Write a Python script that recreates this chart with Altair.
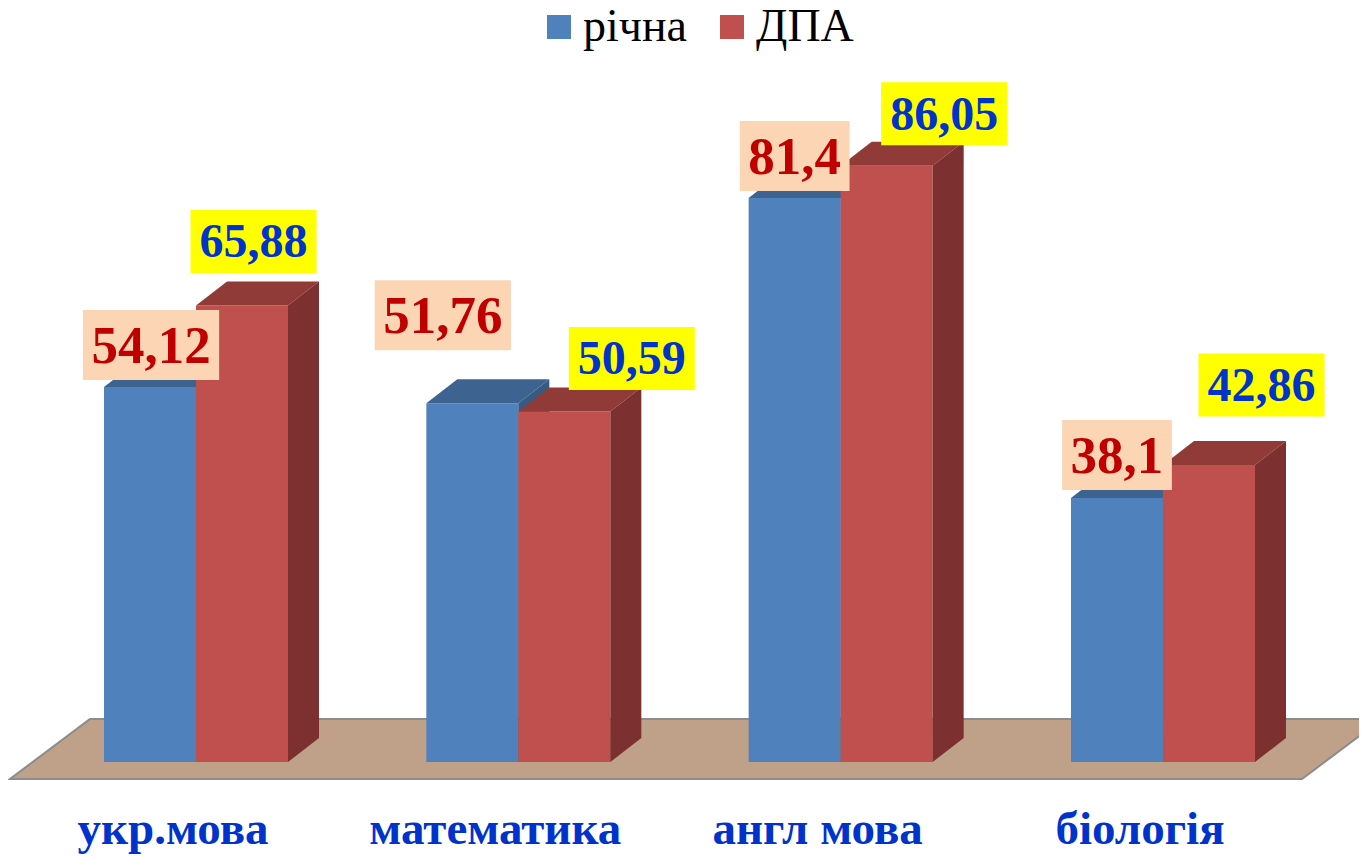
import altair as alt
import pandas as pd

# ---------------- data ----------------
CATEGORIES = ["укр.мова", "математика", "англ мова", "біологія"]
SERIES = ["річна", "ДПА"]
RICHNA = [54.12, 51.76, 81.4, 38.1]
DPA = [65.88, 50.59, 86.05, 42.86]
RICHNA_LABELS = ["54,12", "51,76", "81,4", "38,1"]
DPA_LABELS = ["65,88", "50,59", "86,05", "42,86"]

# ---------------- layout / style ----------------
W, H = 1351, 846
GROUP_PX = 322.33        # px between category groups
Y_PX = 6.93              # px per value unit
X0_PX = 188              # chart x of first group centre
BASE_PX = 754            # chart y of the value 0
BAR_PX = 92
DX_PX, DY_PX = 31, 24    # 3-D depth offset
FONT = "Liberation Serif"

BLUE, BLUE_TOP, BLUE_SIDE = "#4F81BD", "#3D6491", "#375A82"
RED, RED_TOP, RED_SIDE = "#C0504D", "#913B39", "#7C302F"
FLOOR, FLOOR_EDGE = "#BFA18A", "#8C8C8C"

# label nudges in px relative to the top centre of the bar's front face
NUDGE = {
    0: [(1, -42), (-29.5, -88), (0, -42), (0, -43)],
    1: [(11.5, -64), (67.5, -53), (57.5, -52), (52.5, -80)],
}
LABEL_STYLE = {
    0: dict(fs=53, h=70, pad=17, box="#FCD5B5", txt="#C00000"),
    1: dict(fs=48, h=63, pad=18, box="#FFFF00", txt="#0033CC"),
}


def ux(px):
    return px / GROUP_PX


def uy(px):
    return px / Y_PX


XS = alt.Scale(domain=[-X0_PX / GROUP_PX, (W - X0_PX) / GROUP_PX], nice=False, zero=False)
YS = alt.Scale(domain=[-(H - BASE_PX) / Y_PX, BASE_PX / Y_PX], nice=False, zero=False)

front_rows, top_rows, side_rows, label_rows = [], [], [], []
for s, vals in enumerate([RICHNA, DPA]):
    labels = [RICHNA_LABELS, DPA_LABELS][s]
    for i, v in enumerate(vals):
        xl = i + (ux(-BAR_PX) if s == 0 else 0.0)
        xr = xl + ux(BAR_PX)
        dx, dy = ux(DX_PX), uy(DY_PX)
        bid = f"{i}-{s}"
        front_rows.append(dict(s=s, series=SERIES[s], bar=bid, x=xl, x2=xr, y=0.0, y2=v))
        for px_, lo, hi in [(xl, v, v), (xl + dx, v, v + dy), (xr, v, v + dy), (xr + dx, v + dy, v + dy)]:
            top_rows.append(dict(s=s, bar=bid, x=px_, lo=lo, hi=hi))
        for px_, lo, hi in [(xr, 0.0, v), (xr + dx, dy, v + dy)]:
            side_rows.append(dict(s=s, bar=bid, x=px_, lo=lo, hi=hi))
        st = LABEL_STYLE[s]
        nx, ny = NUDGE[s][i]
        xc = (xl + xr) / 2 + ux(nx)
        yc = v - uy(ny)
        digits = len(labels[i]) - 1
        bw = digits * 0.5 * st["fs"] + 0.25 * st["fs"] + st["pad"]
        label_rows.append(dict(s=s, text=labels[i], xc=xc, yc=yc,
                               bx=xc - ux(bw / 2), bx2=xc + ux(bw / 2),
                               by=yc - uy(st["h"] / 2), by2=yc + uy(st["h"] / 2)))

front_df = pd.DataFrame(front_rows)
top_df = pd.DataFrame(top_rows)
side_df = pd.DataFrame(side_rows)
label_df = pd.DataFrame(label_rows)

# floor parallelogram
f_front = uy(-17)
f_back = f_front + uy(60)
fl = ux(-186)
fr = len(CATEGORIES) - 1 + ux(139)
fdx = ux(80)
floor_df = pd.DataFrame([
    dict(x=fl, lo=f_front, hi=f_front),
    dict(x=fl + fdx, lo=f_front, hi=f_back),
    dict(x=fr, lo=f_front, hi=f_back),
    dict(x=fr + fdx, lo=f_back, hi=f_back),
])

cat_df = pd.DataFrame(dict(cat=CATEGORIES, x=[i + ux(-23) for i in range(len(CATEGORIES))],
                           y=[uy(-82)] * len(CATEGORIES)))

floor = alt.Chart(floor_df).mark_area(color=FLOOR, stroke=FLOOR_EDGE, strokeWidth=2, clip=True).encode(
    x=alt.X("x:Q", scale=XS, axis=None),
    y=alt.Y("lo:Q", scale=YS, axis=None),
    y2="hi:Q",
)

legend = alt.Legend(orient="none", legendX=528, legendY=-4, direction="horizontal", title=None,
                    symbolType="square", symbolSize=576, symbolStrokeWidth=0, symbolOpacity=1,
                    labelFont=FONT, labelFontSize=46, labelColor="black", labelOffset=1,
                    columnPadding=22, padding=0, labelLimit=300)
color = alt.Color("series:N", scale=alt.Scale(domain=SERIES, range=[BLUE, RED]), legend=legend)

layers = [floor]
for s, (top_c, side_c) in enumerate([(BLUE_TOP, BLUE_SIDE), (RED_TOP, RED_SIDE)]):
    layers.append(alt.Chart(front_df[front_df.s == s]).mark_rect().encode(
        x=alt.X("x:Q", scale=XS, axis=None), x2="x2:Q",
        y=alt.Y("y:Q", scale=YS, axis=None), y2="y2:Q",
        color=color,
    ))
    layers.append(alt.Chart(top_df[top_df.s == s]).mark_area(color=top_c).encode(
        x=alt.X("x:Q", scale=XS, axis=None),
        y=alt.Y("lo:Q", scale=YS, axis=None), y2="hi:Q",
        detail="bar:N",
    ))
    layers.append(alt.Chart(side_df[side_df.s == s]).mark_area(color=side_c).encode(
        x=alt.X("x:Q", scale=XS, axis=None),
        y=alt.Y("lo:Q", scale=YS, axis=None), y2="hi:Q",
        detail="bar:N",
    ))

for s in (0, 1):
    st = LABEL_STYLE[s]
    d = label_df[label_df.s == s]
    layers.append(alt.Chart(d).mark_rect(color=st["box"]).encode(
        x=alt.X("bx:Q", scale=XS, axis=None), x2="bx2:Q",
        y=alt.Y("by:Q", scale=YS, axis=None), y2="by2:Q",
    ))
    layers.append(alt.Chart(d).mark_text(font=FONT, fontWeight="bold", fontSize=st["fs"],
                                         color=st["txt"], align="center", baseline="middle", dy=2).encode(
        x=alt.X("xc:Q", scale=XS, axis=None),
        y=alt.Y("yc:Q", scale=YS, axis=None),
        text="text:N",
    ))

layers.append(alt.Chart(cat_df).mark_text(font=FONT, fontWeight="bold", fontSize=47, color="#0033CC",
                                          align="center", baseline="alphabetic").encode(
    x=alt.X("x:Q", scale=XS, axis=None),
    y=alt.Y("y:Q", scale=YS, axis=None),
    text="cat:N",
))

chart = alt.layer(*layers).properties(
    width=W, height=H, padding=0,
    autosize=alt.AutoSizeParams(type="none"),
    background="white",
).configure_view(stroke=None)

chart.save("out.html", embed_options={"renderer": "svg", "actions": False})
